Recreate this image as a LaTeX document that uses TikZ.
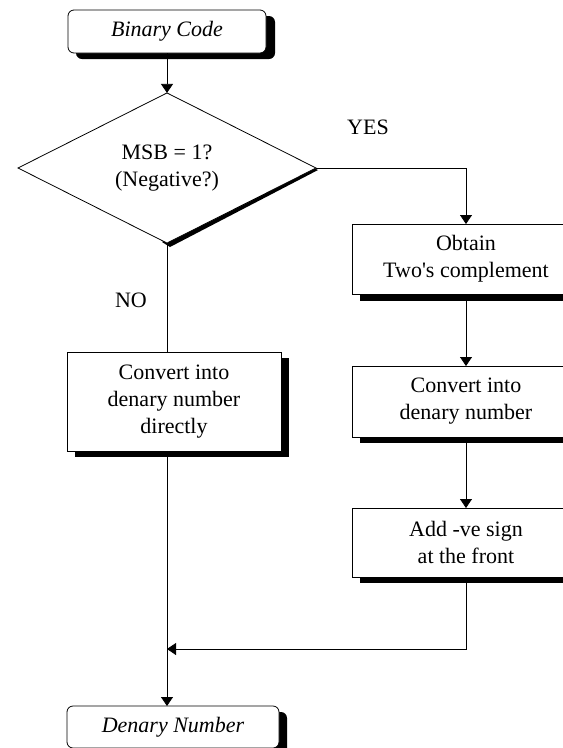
\documentclass[tikz,border=0pt]{standalone}
\usepackage{fontspec}
\setmainfont{Liberation Serif}[Ligatures=TeXOff]
\usetikzlibrary{shapes.geometric,arrows.meta,calc}
\begin{document}
\begin{tikzpicture}[x=1pt,y=-1pt,
  every node/.style={font=\fontsize{22}{27}\selectfont, align=center, inner sep=0pt, outer sep=0pt},
  procbox/.style={draw, line width=0.8pt, fill=white, rectangle},
  termbox/.style={draw, line width=0.8pt, fill=white, rectangle, rounded corners=6pt, font=\fontsize{22}{27}\selectfont\itshape},
  decbox/.style={draw, line width=0.8pt, fill=white, diamond, minimum width=298pt, minimum height=144pt},
  conn/.style={line width=0.8pt},
  arr/.style={conn, -{Triangle[length=9pt,width=12pt]}},
  lbl/.style={font=\fontsize{22}{27}\selectfont}
]
\clip (0,0) rectangle (563,748);
\fill[white] (0,0) rectangle (563,748);

% shadows
\fill[black, rounded corners=6pt] (76,16) rectangle (275,59);
\fill[black] (360,230) rectangle (588,301);
\fill[black] (360,372) rectangle (588,443);
\fill[black] (360,514) rectangle (588,583);
\fill[black] (75,358) rectangle (289,457);
\fill[black, rounded corners=6pt] (75,712) rectangle (287,760);

% nodes
\node[termbox, minimum width=198pt, minimum height=43pt] (start) at (167,31.5) {Binary Code};
\fill[black] (310,166) -- (318,170) -- (170,247) -- (162,242) -- cycle;
\node[decbox] (dec) at (167,168) {MSB = 1?\\(Negative?)};
\node[procbox, minimum width=228pt, minimum height=70pt] (obtain) at (466,259) {Obtain\\Two's complement};
\node[procbox, minimum width=228pt, minimum height=71pt] (conv) at (466,401.5) {Convert into\\denary number};
\node[procbox, minimum width=228pt, minimum height=69pt] (addsign) at (466,542.5) {Add -ve sign\\at the front};
\node[procbox, minimum width=214pt, minimum height=99pt] (direct) at (174,401.5) {Convert into\\denary number\\directly};
\node[termbox, minimum width=212pt, minimum height=42pt] (finish) at (173,727) {Denary Number};

\node[lbl] (yes) at (368,127) {YES};
\node[lbl] (no) at (131,300) {NO};

% connectors
\coordinate (join) at (167,649);
\draw[arr] (start.south) -- (dec.north);
\draw[arr] (dec.east) -- (obtain.north |- dec.east) -- (obtain.north);
\draw[conn] (dec.south) -- (dec.south |- direct.north);
\draw[arr] (obtain.south) -- (conv.north);
\draw[arr] (conv.south) -- (addsign.north);
\draw[arr] (addsign.south) -- (addsign.south |- join) -- (join);
\draw[arr] (dec.south |- direct.south) -- (dec.south |- finish.north);
\end{tikzpicture}
\end{document}
